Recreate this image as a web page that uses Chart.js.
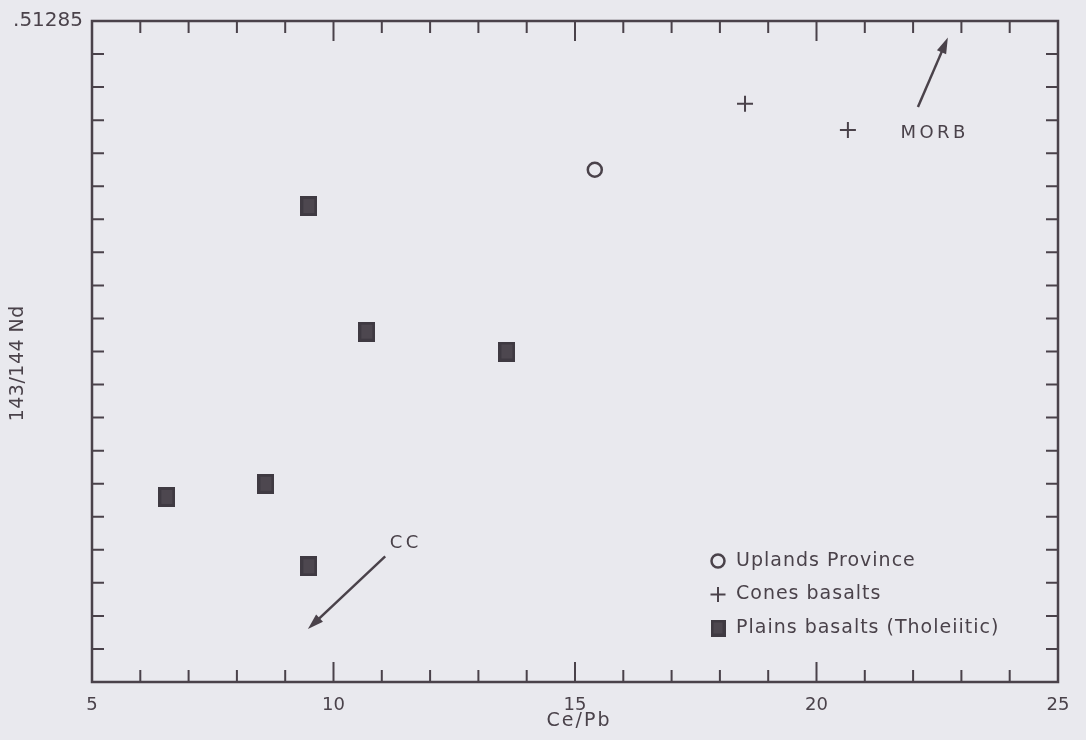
<!DOCTYPE html>
<html>
<head>
<meta charset="utf-8">
<script src="https://cdn.jsdelivr.net/npm/chart.js@4.4.1/dist/chart.umd.min.js"></script>
<style>
  html, body { margin: 0; padding: 0; background: #e9e9ee; }
  #wrap { width: 1086px; height: 740px; }
</style>
</head>
<body>
<div id="wrap"><canvas id="nd-plot" width="1086" height="740"></canvas></div>
<script>
// Ce/Pb vs 143/144 Nd
const xMin = 5, xMax = 25;
const yMin = 0.51265, yMax = 0.51285, yStep = 0.00001;
const xLabelEvery = 5;
const yLabeled = [0.51285];
const xTitle = 'Ce/Pb';
const yTitle = '143/144 Nd';

const uplands = [{ x: 15.41, y: 0.512805 }];
const cones = [
  { x: 18.52, y: 0.512825 },
  { x: 20.65, y: 0.512817 }
];
const plains = [
  { x: 6.55, y: 0.512706 },
  { x: 8.60, y: 0.512710 },
  { x: 9.49, y: 0.512794 },
  { x: 9.49, y: 0.512685 },
  { x: 10.69, y: 0.512756 },
  { x: 13.59, y: 0.512750 }
];

// reference arrows: label, label position, tail, head
const arrows = [
  { text: 'MORB', at: { x: 22.41, y: 0.512816 }, from: { x: 22.10, y: 0.512824 }, to: { x: 22.72, y: 0.512845 } },
  { text: 'CC', at: { x: 11.46, y: 0.512692 }, from: { x: 11.07, y: 0.512688 }, to: { x: 9.47, y: 0.512666 } }
];

const ink = '#4a424a';
const font = '"DejaVu Sans", sans-serif';

// plains basalts are drawn as slightly tall filled blocks
function block(w, h) {
  const c = document.createElement('canvas');
  c.width = w; c.height = h;
  const g = c.getContext('2d');
  g.fillStyle = '#3f3a42';
  g.fillRect(0, 0, w, h);
  g.fillStyle = '#4d474f';
  g.fillRect(3, 3, w - 6, h - 6);
  return c;
}
const plainsMark = block(17, 20);
const plainsKey = block(15, 17);

function spaced(ctx, text, x, y, sp) {
  ctx.letterSpacing = sp + 'px';
  const w = ctx.measureText(text).width - sp;
  ctx.fillText(text, x - w / 2, y);
  ctx.letterSpacing = '0px';
}

// frame, inward tick marks, axis titles, arrows and the key
const decor = {
  id: 'decor',
  afterDatasetsDraw(chart) {
    const { ctx, chartArea: a, scales: { x, y } } = chart;
    ctx.save();
    ctx.strokeStyle = ink;
    ctx.lineWidth = 2.5;
    ctx.strokeRect(a.left, a.top, a.right - a.left, a.bottom - a.top);

    ctx.lineWidth = 2;
    for (let v = xMin + 1; v < xMax; v++) {
      const px = x.getPixelForValue(v);
      const len = v % xLabelEvery === 0 ? 20 : 12;
      ctx.beginPath();
      ctx.moveTo(px, a.bottom); ctx.lineTo(px, a.bottom - len);
      ctx.moveTo(px, a.top); ctx.lineTo(px, a.top + len);
      ctx.stroke();
    }
    const n = Math.round((yMax - yMin) / yStep);
    for (let i = 1; i < n; i++) {
      const py = y.getPixelForValue(yMin + i * yStep);
      ctx.beginPath();
      ctx.moveTo(a.left, py); ctx.lineTo(a.left + 12, py);
      ctx.moveTo(a.right, py); ctx.lineTo(a.right - 12, py);
      ctx.stroke();
    }

    ctx.fillStyle = ink;
    ctx.textBaseline = 'middle';
    ctx.textAlign = 'left';

    ctx.font = '19px ' + font;
    spaced(ctx, xTitle, (a.left + a.right) / 2 + 3, a.bottom + 39, 2);
    ctx.save();
    ctx.translate(18, (a.top + a.bottom) / 2 + 12);
    ctx.rotate(-Math.PI / 2);
    ctx.font = '19px ' + font;
    spaced(ctx, yTitle, 0, 0, 0.5);
    ctx.restore();

    ctx.font = '18px ' + font;
    arrows.forEach(ar => {
      const x0 = x.getPixelForValue(ar.from.x), y0 = y.getPixelForValue(ar.from.y);
      const x1 = x.getPixelForValue(ar.to.x), y1 = y.getPixelForValue(ar.to.y);
      const ang = Math.atan2(y1 - y0, x1 - x0);
      ctx.lineWidth = 2.5;
      ctx.beginPath();
      ctx.moveTo(x0, y0);
      ctx.lineTo(x1 - 8 * Math.cos(ang), y1 - 8 * Math.sin(ang));
      ctx.stroke();
      ctx.beginPath();
      ctx.moveTo(x1, y1);
      ctx.lineTo(x1 - 16 * Math.cos(ang) + 5 * Math.sin(ang), y1 - 16 * Math.sin(ang) - 5 * Math.cos(ang));
      ctx.lineTo(x1 - 16 * Math.cos(ang) - 5 * Math.sin(ang), y1 - 16 * Math.sin(ang) + 5 * Math.cos(ang));
      ctx.closePath();
      ctx.fill();
      spaced(ctx, ar.text, x.getPixelForValue(ar.at.x), y.getPixelForValue(ar.at.y), 3.5);
    });

    // key, lower right of the plot
    ctx.font = '19px ' + font;
    const kx = a.right - 340, ky = a.bottom - 121;
    chart.data.datasets.forEach((ds, i) => {
      const cy = ky + i * 33.5;
      ctx.strokeStyle = ink;
      ctx.fillStyle = ds.backgroundColor;
      ctx.lineWidth = ds.borderWidth;
      Chart.helpers.drawPoint(ctx, {
        pointStyle: ds.pointStyle === plainsMark ? plainsKey : ds.pointStyle,
        radius: ds.pointRadius - 0.5,
        rotation: 0,
        borderWidth: ds.borderWidth
      }, kx, cy);
      ctx.fillStyle = ink;
      ctx.letterSpacing = '1px';
      ctx.fillText(ds.label, kx + 18, cy);
      ctx.letterSpacing = '0px';
    });
    ctx.restore();
  }
};

new Chart(document.getElementById('nd-plot'), {
  type: 'scatter',
  data: {
    datasets: [
      { label: 'Uplands Province', data: uplands, pointStyle: 'circle', pointRadius: 7,
        borderWidth: 2.5, borderColor: ink, backgroundColor: 'rgba(0,0,0,0)' },
      { label: 'Cones basalts', data: cones, pointStyle: 'cross', pointRadius: 8,
        borderWidth: 2, borderColor: ink, backgroundColor: ink },
      { label: 'Plains basalts (Tholeiitic)', data: plains, pointStyle: plainsMark, pointRadius: 10,
        borderWidth: 0, borderColor: ink, backgroundColor: '#47424a' }
    ]
  },
  options: {
    responsive: false,
    animation: false,
    layout: { padding: { left: 0, right: 28, top: 15, bottom: 0 } },
    plugins: { legend: { display: false }, tooltip: { enabled: false } },
    scales: {
      x: {
        type: 'linear', min: xMin, max: xMax,
        afterFit(s) { s.height = 58; },
        grid: { display: false, drawTicks: false },
        border: { display: false },
        ticks: {
          stepSize: 1, autoSkip: false, padding: 13, color: ink,
          font: { family: font, size: 18 },
          callback: v => (v % xLabelEvery === 0 ? String(v) : '')
        }
      },
      y: {
        type: 'linear', min: yMin, max: yMax,
        afterFit(s) { s.width = 92; },
        grid: { display: false, drawTicks: false },
        border: { display: false },
        ticks: {
          stepSize: yStep, autoSkip: false, padding: 9, color: ink,
          font: { family: font, size: 20 },
          callback: v => (yLabeled.some(l => Math.abs(l - v) < 1e-9) ? v.toFixed(5).slice(1) : '')
        }
      }
    }
  },
  plugins: [decor]
});
</script>
</body>
</html>
